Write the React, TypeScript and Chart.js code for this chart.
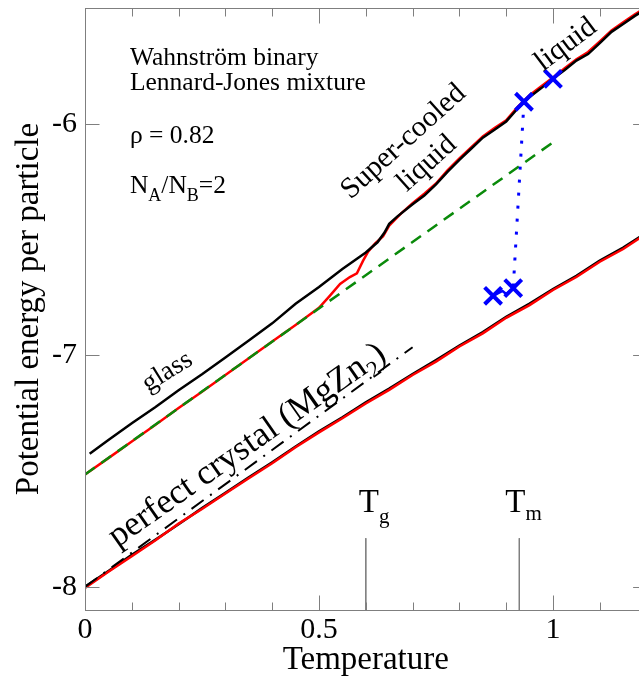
import React, { useEffect, useRef } from 'react';
import { Chart, registerables } from 'chart.js';

Chart.register(...registerables);

const FONT = '"Liberation Serif", "Times New Roman", Times, serif';
const AXIS = '#7f7f7f';

// ---- data ----
// cooling run: glass -> super-cooled liquid -> liquid (black)
const coolT = [0.01, 0.05, 0.1, 0.15, 0.2, 0.25, 0.3, 0.35, 0.4, 0.45, 0.5, 0.55, 0.6, 0.625, 0.64, 0.65, 0.667, 0.7, 0.725, 0.75, 0.775, 0.8, 0.825, 0.85, 0.875, 0.9, 0.925, 0.95, 0.975, 1.0, 1.025, 1.05, 1.075, 1.1, 1.125, 1.15, 1.175, 1.2];
const coolE = [-7.425, -7.366, -7.293, -7.224, -7.151, -7.082, -7.009, -6.936, -6.862, -6.777, -6.705, -6.627, -6.556, -6.512, -6.47, -6.432, -6.401, -6.348, -6.31, -6.262, -6.207, -6.156, -6.108, -6.06, -6.026, -5.99, -5.933, -5.884, -5.846, -5.806, -5.768, -5.727, -5.699, -5.652, -5.603, -5.569, -5.534, -5.503];

// heating run (red)
const heatT = [0, 0.05, 0.1, 0.15, 0.2, 0.25, 0.3, 0.35, 0.4, 0.45, 0.5, 0.523, 0.545, 0.566, 0.581, 0.594, 0.605, 0.62, 0.637, 0.65, 0.675, 0.7, 0.725, 0.75, 0.775, 0.8, 0.825, 0.85, 0.875, 0.9, 0.925, 0.95, 0.975, 1.0, 1.025, 1.05, 1.075, 1.1, 1.125, 1.15, 1.175, 1.2];
const heatE = [-7.515, -7.444, -7.372, -7.301, -7.228, -7.157, -7.085, -7.013, -6.94, -6.869, -6.795, -6.743, -6.692, -6.662, -6.646, -6.592, -6.552, -6.517, -6.486, -6.44, -6.388, -6.343, -6.302, -6.258, -6.2, -6.15, -6.102, -6.055, -6.018, -5.985, -5.926, -5.877, -5.838, -5.8, -5.76, -5.722, -5.69, -5.644, -5.597, -5.562, -5.527, -5.496];

// perfect crystal (MgZn2)
const crystalT = [0, 0.05, 0.1, 0.15, 0.2, 0.25, 0.3, 0.35, 0.4, 0.45, 0.5, 0.55, 0.6, 0.65, 0.7, 0.75, 0.8, 0.85, 0.9, 0.95, 1.0, 1.05, 1.1, 1.15, 1.2];
const crystalRedE = [-8.005, -7.935, -7.868, -7.8, -7.727, -7.664, -7.597, -7.531, -7.466, -7.397, -7.333, -7.272, -7.208, -7.149, -7.085, -7.027, -6.962, -6.905, -6.838, -6.783, -6.718, -6.662, -6.596, -6.541, -6.474];
const crystalBlackE = [-8.0, -7.932, -7.862, -7.797, -7.73, -7.66, -7.594, -7.527, -7.462, -7.394, -7.328, -7.268, -7.203, -7.144, -7.081, -7.021, -6.958, -6.9, -6.834, -6.777, -6.714, -6.657, -6.591, -6.535, -6.47];

// harmonic glass line (green dashed)
const glassHarmT = [0, 1.0];
const glassHarmE = [-7.515, -6.08];

// harmonic crystal line (black dash-dot)
const crystalHarmT = [0, 0.7];
const crystalHarmE = [-8.0, -6.965];

// melting markers (blue crosses)
const meltT = [0.938, 1.0, 0.872, 0.915];
const meltE = [-5.905, -5.806, -6.743, -6.71];
const dropT = [0.938, 0.915];
const dropE = [-5.905, -6.71];
const linkT = [0.872, 0.892, 0.9, 0.915];
const linkE = [-6.743, -6.722, -6.735, -6.71];

// Tg / Tm markers
const markT = [0.6, 0.928];
const markSub = ['g', 'm'];
const markTopE = -7.79;

// axes
const xTicks = [0, 0.5, 1];
const yTicks = [-8, -7, -6];
const xMinor = [0, 0.1, 0.2, 0.3, 0.4, 0.5, 0.6, 0.7, 0.8, 0.9, 1.0, 1.1, 1.2];

const xy = (xs: number[], ys: number[]) => xs.map((x, i) => ({ x, y: ys[i] }));

const f = (size: number) => `${size}px ${FONT}`;

type Part = { t: string; size: number; dy?: number };

function drawParts(ctx: CanvasRenderingContext2D, parts: Part[], x: number, y: number, align: 'left' | 'center') {
  let w = 0;
  for (const p of parts) { ctx.font = f(p.size); w += ctx.measureText(p.t).width; }
  let cx = align === 'center' ? x - w / 2 : x;
  ctx.textAlign = 'left';
  ctx.textBaseline = 'alphabetic';
  for (const p of parts) {
    ctx.font = f(p.size);
    ctx.fillText(p.t, cx, y + (p.dy || 0));
    cx += ctx.measureText(p.t).width;
  }
}

function drawRotated(ctx: CanvasRenderingContext2D, parts: Part[], cx: number, cy: number, deg: number, size: number) {
  ctx.save();
  ctx.translate(cx, cy);
  ctx.rotate((deg * Math.PI) / 180);
  drawParts(ctx, parts, 0, size * 0.3, 'center');
  ctx.restore();
}

const framePlugin = {
  id: 'frame',
  afterDraw(chart: any) {
    const { ctx, chartArea: a } = chart;
    const xs = chart.scales.x;
    const ys = chart.scales.y;
    const px = (v: number) => xs.getPixelForValue(v);
    const py = (v: number) => ys.getPixelForValue(v);
    ctx.save();
    ctx.strokeStyle = AXIS;
    ctx.lineWidth = 1;
    ctx.strokeRect(a.left + 0.5, a.top + 0.5, a.right - a.left, a.bottom - a.top);
    ctx.beginPath();
    for (const v of xMinor) {
      const X = Math.round(px(v)) + 0.5;
      const len = xTicks.includes(v) ? 15 : 8;
      ctx.moveTo(X, a.bottom + 0.5); ctx.lineTo(X, a.bottom + 0.5 - len);
      ctx.moveTo(X, a.top + 0.5); ctx.lineTo(X, a.top + 0.5 + len);
    }
    for (const v of yTicks) {
      const Y = Math.round(py(v)) + 0.5;
      ctx.moveTo(a.left + 0.5, Y); ctx.lineTo(a.left + 0.5 + 14, Y);
      ctx.moveTo(a.right + 0.5, Y); ctx.lineTo(a.right + 0.5 - 14, Y);
    }
    ctx.stroke();

    ctx.fillStyle = '#000';
    // info block
    const lx = px(0.096);
    drawParts(ctx, [{ t: 'Wahnström binary', size: 25.5 }], lx, py(-5.746), 'left');
    drawParts(ctx, [{ t: 'Lennard-Jones mixture', size: 25.5 }], lx, py(-5.854), 'left');
    drawParts(ctx, [{ t: 'ρ = 0.82', size: 25.5 }], lx, py(-6.083), 'left');
    drawParts(ctx, [
      { t: 'N', size: 25.5 }, { t: 'A', size: 18, dy: 8 }, { t: '/N', size: 25.5 }, { t: 'B', size: 18, dy: 8 }, { t: '=2', size: 25.5 },
    ], lx, py(-6.299), 'left');

    // curve labels
    drawRotated(ctx, [{ t: 'glass', size: 27 }], px(0.175), py(-7.068), -32, 27);
    drawRotated(ctx, [{ t: 'Super-cooled', size: 29.5 }], px(0.679), py(-6.074), -42, 29.5);
    drawRotated(ctx, [{ t: 'liquid', size: 29.5 }], px(0.729), py(-6.169), -42, 29.5);
    drawRotated(ctx, [{ t: 'liquid', size: 29.5 }], px(1.026), py(-5.655), -37, 29.5);
    drawRotated(ctx, [
      { t: 'perfect crystal (MgZn', size: 35 }, { t: '2', size: 23, dy: 8 }, { t: ')', size: 35 },
    ], px(0.345), py(-7.385), -35, 35);

    // Tg, Tm
    markT.forEach((t, i) => {
      const X = px(t);
      const off = i === 0 ? -7 : -14;
      drawParts(ctx, [{ t: 'T', size: 33 }, { t: markSub[i], size: 21, dy: i === 0 ? 11 : 8 }], X + off, py(-7.677), 'left');
    });
    ctx.restore();
  },
};

export default function App() {
  const ref = useRef<HTMLCanvasElement>(null);
  useEffect(() => {
    const line = (data: any, color: string, width: number, dash: number[] = []) => ({
      data, showLine: true, borderColor: color, backgroundColor: color, borderWidth: width,
      borderDash: dash, pointRadius: 0, tension: 0, fill: false,
    });
    const chart = new Chart(ref.current as HTMLCanvasElement, {
      type: 'scatter',
      data: {
        datasets: [
          { data: xy(meltT, meltE), showLine: false, pointStyle: 'crossRot', pointRadius: 12, borderColor: '#0000ff', backgroundColor: '#0000ff', borderWidth: 4 } as any,
          line(xy(dropT, dropE), '#0000ff', 3, [3, 10]),
          line(xy(linkT, linkE), '#0000ff', 2.5),
          line(xy(glassHarmT, glassHarmE), '#0a8a0a', 2.5, [12, 8]),
          line(xy(crystalHarmT, crystalHarmE), '#000000', 2, [15, 8, 2, 8]),
          line(xy(coolT, coolE), '#000000', 2.5),
          line(xy(crystalT, crystalRedE), '#ff0000', 2.5),
          line(xy(crystalT, crystalBlackE), '#000000', 2.5),
          line(xy(heatT, heatE), '#ff0000', 2.5),
          ...markT.map((t) => line([{ x: t, y: markTopE }, { x: t, y: -8.1 }], AXIS, 1)),
        ],
      },
      options: {
        responsive: false,
        animation: false,
        events: [],
        layout: { autoPadding: false, padding: { top: 8, right: 13.4, left: 0, bottom: 0 } },
        plugins: { legend: { display: false }, tooltip: { enabled: false } },
        scales: {
          x: {
            type: 'linear', min: 0, max: 1.2,
            grid: { display: false, drawTicks: false }, border: { display: false },
            afterBuildTicks: (s: any) => { s.ticks = xTicks.map((v) => ({ value: v })); },
            afterFit: (s: any) => { s.height = 71; s.paddingLeft = 0; s.paddingRight = 0; },
            ticks: { font: { family: FONT, size: 30 }, color: '#000', padding: 2, maxRotation: 0, autoSkip: false, callback: (v: any) => String(v) },
            title: { display: true, text: 'Temperature', font: { family: FONT, size: 33 }, color: '#000', padding: { top: 0, bottom: 1 } },
          },
          y: {
            type: 'linear', min: -8.1, max: -5.5,
            grid: { display: false, drawTicks: false }, border: { display: false },
            afterBuildTicks: (s: any) => { s.ticks = yTicks.map((v) => ({ value: v })); },
            afterFit: (s: any) => { s.width = 85; s.paddingTop = 0; s.paddingBottom = 0; },
            ticks: { font: { family: FONT, size: 30 }, color: '#000', padding: 8, autoSkip: false, callback: (v: any) => String(v) },
            title: { display: true, text: 'Potential energy per particle', font: { family: FONT, size: 33 }, color: '#000', padding: { top: 10, bottom: 0 } },
          },
        },
      },
      plugins: [framePlugin],
    } as any);
    return () => chart.destroy();
  }, []);
  return (
    <div style={{ position: 'fixed', left: 0, top: 0, width: 639, height: 681, overflow: 'hidden', background: '#fff' }}>
      <canvas ref={ref} width={660} height={681} style={{ display: 'block', width: 660, height: 681 }} />
    </div>
  );
}
